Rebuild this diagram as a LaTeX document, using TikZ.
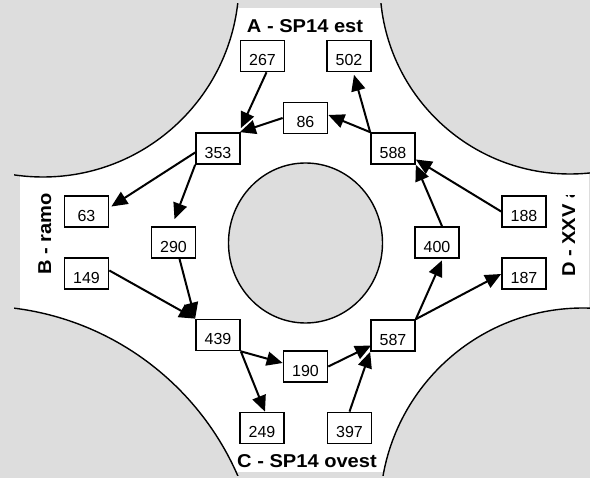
\documentclass[tikz,border=0pt]{standalone}
\usepackage{fontspec}
\setmainfont{Liberation Sans}
\newfontfamily\roadfont{Liberation Sans}[FakeStretch=1.08]
\usetikzlibrary{arrows.meta,calc}
\definecolor{paving}{RGB}{221,221,221}

\begin{document}
\begin{tikzpicture}[x=1pt,y=-1pt,
  count/.style={draw=black, line width=1.7pt, fill=white,
    minimum width=44pt, minimum height=31pt, inner sep=0pt,
    text height=20pt, text depth=0pt,
    font=\fontsize{16}{16}\selectfont},
  flow/.style={line width=2pt, -{Triangle[length=16pt,width=14pt]}},
  road/.style={font=\roadfont\bfseries\fontsize{18.6}{19}\selectfont, inner sep=0pt},
  kerb/.style={line width=1.4pt}
]
\useasboundingbox (0,0) rectangle (590,478);

% paving and carriageway
\fill[paving] (0,0) rectangle (590,478);
\fill[white] (20,8) rectangle (588.5,472);

% corner kerbs
\begin{scope}
  \clip (14,4) rectangle (590,476);
  \filldraw[fill=paving, kerb] (43,-19) circle[radius=196pt];
  \filldraw[fill=paving, kerb] (570,-16) circle[radius=190pt];
  \filldraw[fill=paving, kerb] (-21,588) circle[radius=282pt];
  \filldraw[fill=paving, kerb] (583,511) circle[radius=203pt];
\end{scope}

% central island
\filldraw[fill=paving, kerb] (305.5,243) ellipse[x radius=77pt, y radius=80pt];

% arm names
\node[road, anchor=base] (lblA) at (305,33) {A - SP14 est};
\node[road, anchor=base] (lblC) at (307,468) {C - SP14 ovest};
\node[road, rotate=90, anchor=base west] (lblB) at (51,275) {B - ramo};
\begin{scope}
  \clip (540,196) rectangle (590,300);
  \node[road, rotate=90, anchor=base west] (lblD) at (575,277) {D - XXV a};
\end{scope}

% traffic counts
\node[count] (n267) at (262.5,56) {267};
\node[count] (n502) at (349,56) {502};
\node[count] (n86) at (305.5,118) {86};
\node[count] (n353) at (218,148.5) {353};
\node[count] (n588) at (393,148.5) {588};
\node[count] (n63) at (86.5,211.5) {63};
\node[count] (n188) at (524,211.5) {188};
\node[count] (n290) at (173.5,242.5) {290};
\node[count] (n400) at (437,242.5) {400};
\node[count] (n149) at (86.5,273.5) {149};
\node[count] (n187) at (524,273.5) {187};
\node[count] (n439) at (218,335) {439};
\node[count] (n587) at (393,335.5) {587};
\node[count] (n190) at (305.5,366.5) {190};
\node[count] (n249) at (262,428) {249};
\node[count] (n397) at (349.5,428) {397};

% flows
\draw[flow] ($(n267.south)+(4,0)$) -- ($(n353.north east)+(0,-4)$);
\draw[flow] (n86.west) -- ($(n353.north east)+(-1,0)$);
\draw[flow] ($(n353.west)+(0,4)$) -- ($(n63.east)+(2,-5)$);
\draw[flow] (n353.south west) -- ($(n290.north)+(1,-7)$);
\draw[flow] (n588.north west) -- ($(n502.south)+(5,2.5)$);
\draw[flow] (n588.north west) -- ($(n86.east)+(0,-3)$);
\draw[flow] (n188.west) -- ($(n588.east)+(0,11)$);
\draw[flow] ($(n400.north)+(5,0)$) -- (n588.south east);
\draw[flow] ($(n290.south)+(6,0)$) -- (n439.north west);
\draw[flow] ($(n149.east)+(0,-3)$) -- (n439.north west);
\draw[flow] (n439.south east) -- ($(n190.west)+(0,-3.5)$);
\draw[flow] (n439.south east) -- ($(n249.north)+(3,0)$);
\draw[flow] (n190.east) -- ($(n587.west)+(1,10)$);
\draw[flow] (n397.north) -- (n587.south west);
\draw[flow] (n587.north east) -- ($(n400.south)+(5,1.5)$);
\draw[flow] (n587.north east) -- ($(n187.west)+(0,0.5)$);
\end{tikzpicture}
\end{document}
